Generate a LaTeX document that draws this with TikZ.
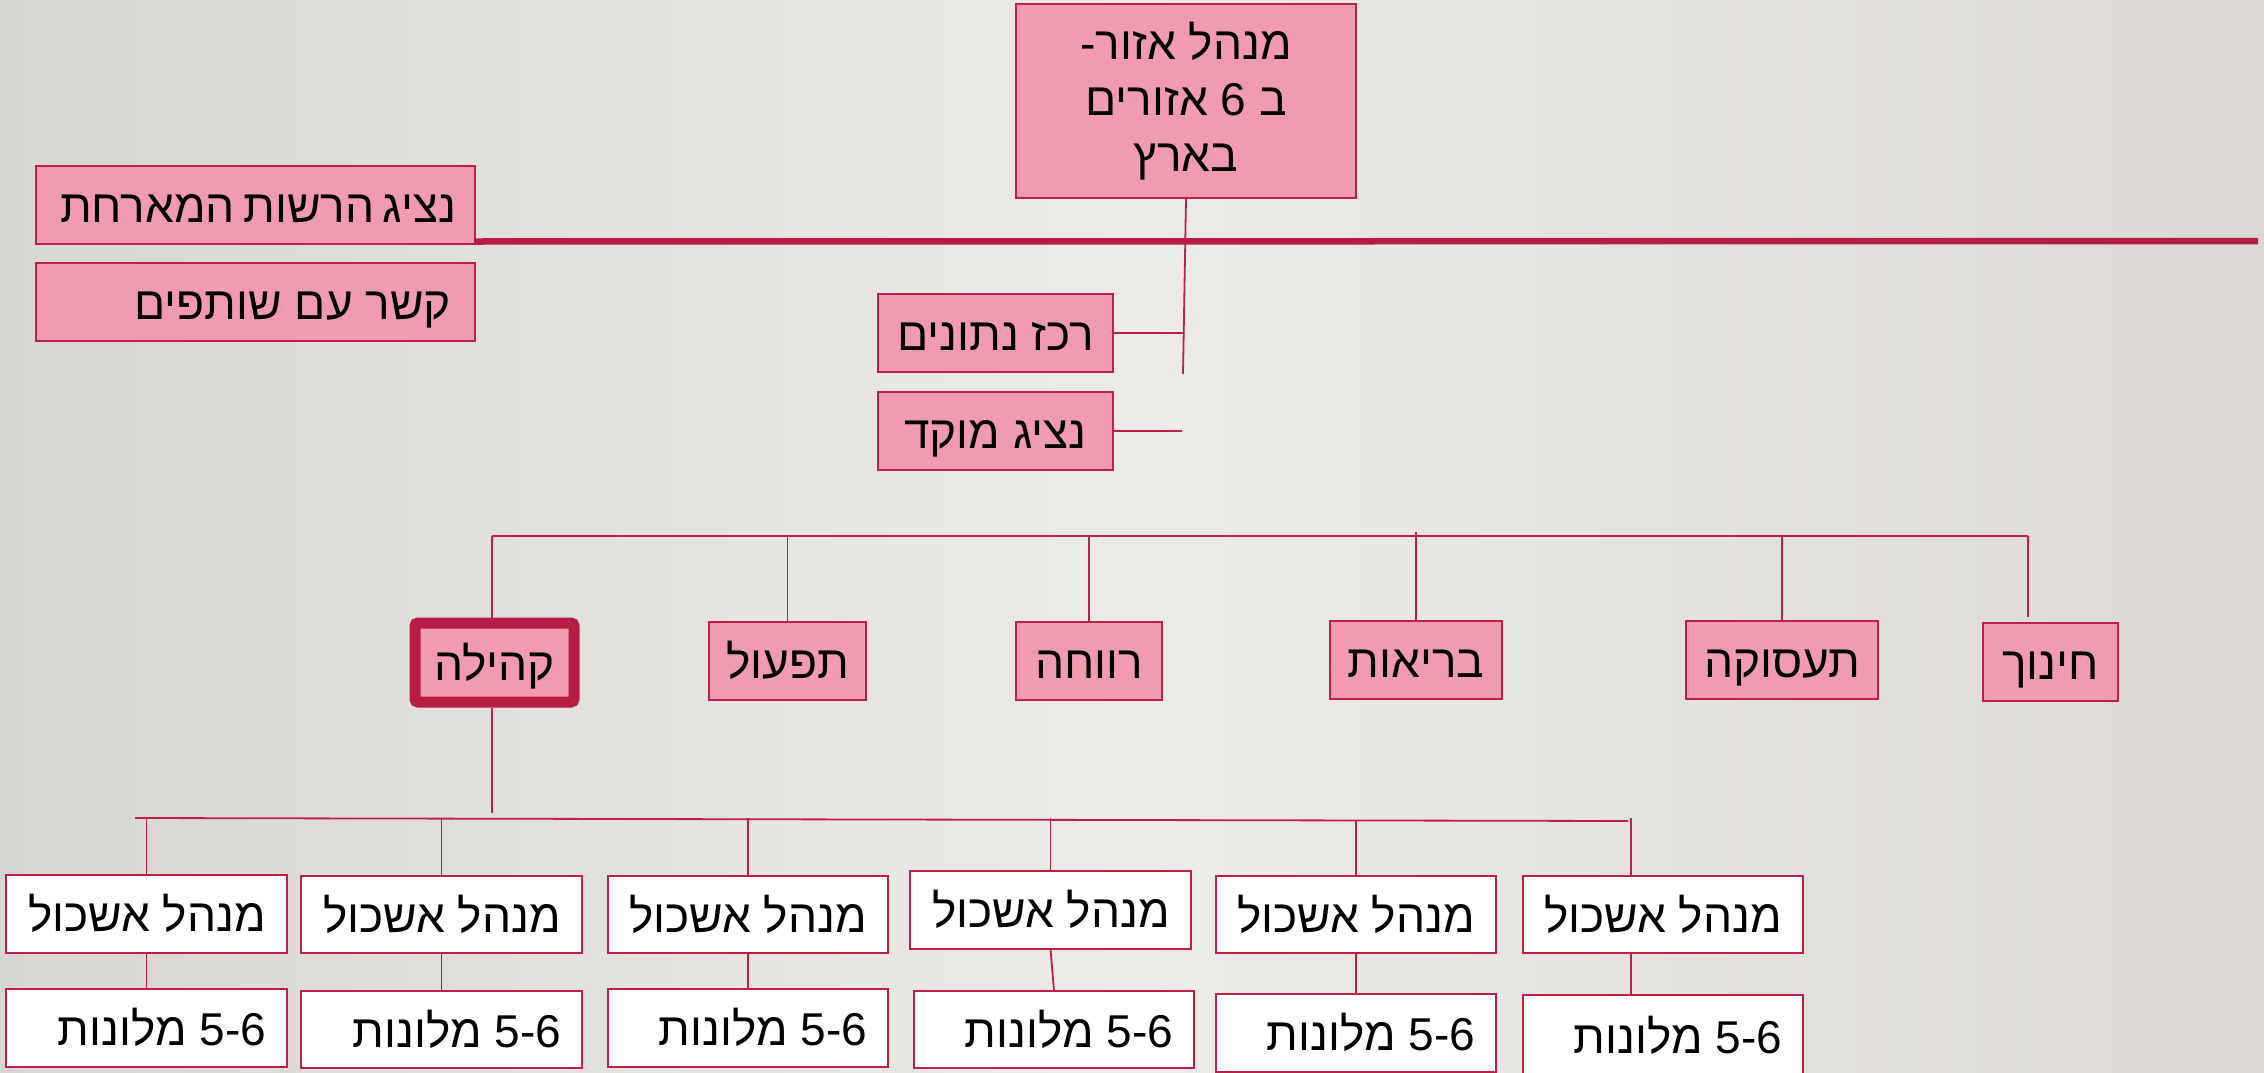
\documentclass[tikz,border=0pt]{standalone}
\usepackage{fontspec}
\setmainfont{Liberation Sans}
\newfontfamily\heb[Script=Hebrew]{Liberation Sans}
\TeXXeTstate=1
\definecolor{pinkf}{HTML}{F09BAF}
\definecolor{crim}{HTML}{BE1F47}
\definecolor{crimdark}{HTML}{B71D42}
\definecolor{bgL}{HTML}{D8D6D1}
\definecolor{bgM}{HTML}{ECEBE7}
\definecolor{bgR}{HTML}{DCD9D4}
\newcommand\RL[1]{\beginR #1\endR}
\def\pad{22}
\newcommand\bx[7]{%
  \pgfmathsetmacro\cx{(#2+#4)/2}%
  \pgfmathsetmacro\cy{(#3+#5)/2}%
  \pgfmathsetmacro\ww{#4-#2}%
  \pgfmathsetmacro\hh{#5-#3}%
  \pgfmathsetmacro\tw{#4-#2-2*\pad}%
  \node[#6, minimum width=\ww pt, minimum height=\hh pt] (#1) at (\cx,\cy) {#7};}
\newcommand\rtxt[1]{\hbox to \tw pt{\hfill\RL{#1}}}
\tikzset{
  hebfont/.style={font=\heb\fontsize{46}{56}\selectfont},
  pbox/.style={draw=crim, fill=pinkf, line width=2.2pt, inner sep=0pt, outer sep=0pt, hebfont, text height=35pt, text depth=0pt},
  topbox/.style={draw=crim, fill=pinkf, line width=2.2pt, inner sep=0pt, outer sep=0pt, hebfont, align=center},
  kbox/.style={pbox, line width=11pt, rounded corners=3pt, draw=crimdark},
  wbox/.style={draw=crim, fill=white, line width=2.2pt, inner sep=0pt, outer sep=0pt, hebfont, text height=35pt, text depth=0pt},
  link/.style={draw=crim, line width=1.8pt},
  bigline/.style={draw=crimdark, line width=6.5pt},
}
\begin{document}
\begin{tikzpicture}[x=1pt,y=-1pt]
\useasboundingbox (0,0) rectangle (2264,1073);
\shade[left color=bgL, right color=bgR, middle color=bgM] (0,0) rectangle (2264,1073);

% top manager
\bx{top}{1016}{4}{1356}{198}{topbox}{\RL{מנהל אזור-}\\\RL{ב 6 אזורים}\\\RL{בארץ}}
% left boxes
\def\pad{24}
\bx{host}{36}{166}{475}{244}{pbox}{\rtxt{נציג הרשות המארחת}}
\bx{partners}{36}{263}{475}{341}{pbox}{\rtxt{קשר עם שותפים}}
\coordinate (thickR) at (2258,241);
\draw[bigline] ([yshift=2.5pt]host.south east) -- (thickR);

% staff boxes
\bx{data}{878}{294}{1113}{372}{pbox}{\RL{רכז נתונים}}
\bx{hotline}{878}{392}{1113}{470}{pbox}{\RL{נציג מוקד}}
\coordinate (spineEnd) at (1183,374);
\draw[link] (top.south) -- (spineEnd);
\draw[link] (data.east) -- (data.east -| spineEnd);
\coordinate (hotEnd) at (1182,431);
\draw[link] (hotline.east) -- (hotEnd);

% level 2
\bx{kehila}{415}{623}{574}{702}{kbox}{\RL{קהילה}}
\bx{tifol}{709}{622}{866}{700}{pbox}{\RL{תפעול}}
\bx{revaha}{1016}{622}{1162}{700}{pbox}{\RL{רווחה}}
\bx{briut}{1330}{621}{1502}{699}{pbox}{\RL{בריאות}}
\bx{taasuka}{1686}{621}{1878}{699}{pbox}{\RL{תעסוקה}}
\bx{hinuch}{1983}{623}{2118}{701}{pbox}{\RL{חינוך}}
\coordinate (busL) at (492,536);
\coordinate (busR) at (2028,536);
\draw[link] (busL) -- (busR);
\draw[link] (busL) -- ([yshift=5.5pt]kehila.north -| busL);
\draw[link] (tifol.north) -- (tifol.north |- busL);
\draw[link] (revaha.north) -- (revaha.north |- busL);
\draw[link] (briut.north) -- ([yshift=4pt]briut.north |- busL);
\draw[link] (taasuka.north) -- (taasuka.north |- busL);
\coordinate (hinEnd) at (2028,617);
\draw[link] (busR) -- (hinEnd);

% level 3
\coordinate (kehEnd) at (492,813);
\draw[link] ([yshift=-5.5pt]kehila.south -| kehEnd) -- (kehEnd);
\coordinate (bus3L) at (135,818);
\coordinate (bus3R) at (1628,821);
\draw[link] (bus3L) -- (bus3R);

\def\pad{21}
\bx{m1}{6}{875}{287}{953}{wbox}{\rtxt{מנהל אשכול}}
\bx{m2}{301}{876}{582}{953}{wbox}{\rtxt{מנהל אשכול}}
\bx{m3}{608}{876}{888}{953}{wbox}{\rtxt{מנהל אשכול}}
\bx{m4}{910}{871}{1191}{949}{wbox}{\rtxt{מנהל אשכול}}
\bx{m5}{1216}{876}{1496}{953}{wbox}{\rtxt{מנהל אשכול}}
\bx{m6}{1523}{876}{1803}{953}{wbox}{\rtxt{מנהל אשכול}}

\bx{h1}{6}{989}{287}{1067}{wbox}{\rtxt{\beginL 5-6\endL{} מלונות}}
\bx{h2}{301}{991}{582}{1068}{wbox}{\rtxt{\beginL 5-6\endL{} מלונות}}
\bx{h3}{608}{989}{888}{1067}{wbox}{\rtxt{\beginL 5-6\endL{} מלונות}}
\bx{h4}{914}{991}{1194}{1068}{wbox}{\rtxt{\beginL 5-6\endL{} מלונות}}
\bx{h5}{1216}{994}{1496}{1072}{wbox}{\rtxt{\beginL 5-6\endL{} מלונות}}
\bx{h6}{1523}{995}{1803}{1076}{wbox}{\rtxt{\beginL 5-6\endL{} מלונות}}

\draw[link] (m1.north) -- (m1.north |- bus3L);
\draw[link] (m2.north) -- (m2.north |- bus3L);
\draw[link] (m3.north) -- (m3.north |- bus3L);
\draw[link] (m4.north) -- (m4.north |- bus3L);
\draw[link] (m5.north) -- (m5.north |- bus3R);
\coordinate (d6top) at (1631,818);
\draw[link] (d6top) -- (d6top |- m6.north);
\draw[link] (m1.south) -- (h1.north);
\draw[link] (m2.south) -- (h2.north);
\draw[link] (m3.south) -- (h3.north);
\draw[link] (m4.south) -- (h4.north);
\draw[link] (m5.south) -- (h5.north);
\draw[link] (d6top |- m6.south) -- (d6top |- h6.north);
\end{tikzpicture}
\end{document}
